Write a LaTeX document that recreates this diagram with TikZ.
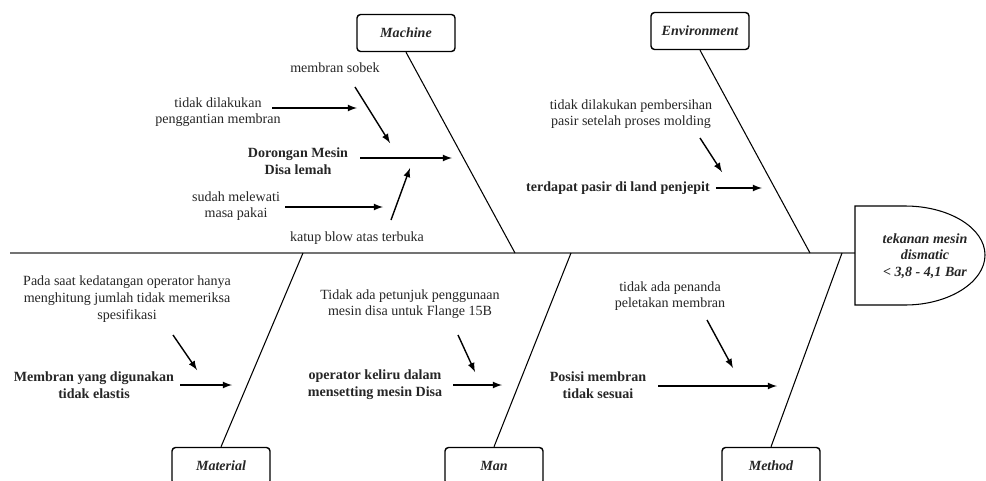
\documentclass[tikz,border=0pt]{standalone}
\usepackage{fontspec}
\setmainfont{Liberation Serif}
\newfontfamily\timesfont{Liberation Serif}
\usetikzlibrary{arrows}

\begin{document}
\begin{tikzpicture}
        [
            x = 0.02cm, y = -0.02cm,
            every node/.append style = {font = \timesfont\fontsize{8}{9.5}\selectfont, text = black!85},
            category/.style = {draw, rounded corners = 2pt, thick, minimum width = 1.96cm, minimum height = 0.74cm, font = \timesfont\fontsize{8}{9.5}\selectfont\bfseries\itshape},
            cause/.style = {align = center},
            maincause/.style = {align = center, font = \timesfont\fontsize{8}{9.5}\selectfont\bfseries},
            arr/.style = {->, >=latex, thick},
            bone/.style = {semithick}]
        \useasboundingbox (0,0) rectangle (986,480);
        \clip (0,0) rectangle (986,480);

        \node[category] (machine) at (406,33) {Machine};
        \node[category] (environment) at (700,31) {Environment};
        \node[category] (material) at (221,466) {Material};
        \node[category] (man) at (494,466) {Man};
        \node[category] (method) at (771,466) {Method};

        \coordinate (tail) at (10,253);
        \coordinate (head) at (855,253);
        \coordinate (jmachine) at (515,253);
        \coordinate (jenvironment) at (810,253);
        \coordinate (jmaterial) at (303,253);
        \coordinate (jman) at (571,253);
        \coordinate (jmethod) at (842,253);

        \draw[line width = 1.4pt, black!55] (tail) -- (head);
        \draw[semithick] (855,206) -- (905,206) .. controls (949,206) and (985,228) .. (985,255)
            .. controls (985,282) and (949,305) .. (905,305) -- (855,305) -- cycle;
        \node[align = center, font = \timesfont\fontsize{8}{9.5}\selectfont\bfseries\itshape] (effect) at (925,256)
            {tekanan mesin\\dismatic\\< 3,8 - 4,1 Bar};

        \draw[bone] (machine.south) -- (jmachine);
        \draw[bone] (environment.south) -- (jenvironment);
        \draw[bone] (material.north) -- (jmaterial);
        \draw[bone] (man.north) -- (jman);
        \draw[bone] (method.north) -- (jmethod);

        \node[cause] (sobek) at (335,68) {membran sobek};
        \node[cause] (ganti) at (218,112) {tidak dilakukan\\penggantian membran};
        \node[maincause] (dorongan) at (298,161) {Dorongan Mesin\\Disa lemah};
        \node[cause] (pakai) at (236,206) {sudah melewati\\masa pakai};
        \node[cause] (katup) at (357,238) {katup blow atas terbuka};
        \coordinate (esobek) at (390,143);
        \coordinate (eganti) at (357,108);
        \coordinate (edorongan) at (452,158);
        \coordinate (epakai) at (383,207);
        \coordinate (ekatup) at (410,168);
        \draw[arr] (355,87) -- (esobek);
        \draw[arr] (272,108) -- (eganti);
        \draw[arr] (360,158) -- (edorongan);
        \draw[arr] (285,207) -- (epakai);
        \draw[arr] (391,220) -- (ekatup);

        \node[cause] (bersih) at (631,114) {tidak dilakukan pembersihan\\pasir setelah proses molding};
        \node[maincause] (pasir) at (618,188) {terdapat pasir di land penjepit};
        \coordinate (ebersih) at (722,172);
        \coordinate (epasir) at (762,188);
        \draw[arr] (700,138) -- (ebersih);
        \draw[arr] (pasir.east) -- (epasir);

        \node[cause] (datang) at (127,299) {Pada saat kedatangan operator hanya\\menghitung jumlah tidak memeriksa\\spesifikasi};
        \node[maincause] (elastis) at (94,385) {Membran yang digunakan\\tidak elastis};
        \coordinate (edatang) at (197,370);
        \coordinate (eelastis) at (232,385);
        \draw[arr] (173,335) -- (edatang);
        \draw[arr] (180,385) -- (eelastis);

        \node[cause] (petunjuk) at (410,304) {Tidak ada petunjuk penggunaan\\mesin disa untuk Flange 15B};
        \node[maincause] (keliru) at (375,385) {operator keliru dalam\\mensetting mesin Disa};
        \coordinate (epetunjuk) at (475,372);
        \coordinate (ekeliru) at (502,385);
        \draw[arr] (458,335) -- (epetunjuk);
        \draw[arr] (453,385) -- (ekeliru);

        \node[cause] (penanda) at (670,296) {tidak ada penanda\\peletakan membran};
        \node[maincause] (posisi) at (598,385) {Posisi membran\\tidak sesuai};
        \coordinate (epenanda) at (733,368);
        \coordinate (eposisi) at (777,386);
        \draw[arr] (707,320) -- (epenanda);
        \draw[arr] (658,386) -- (eposisi);
    \end{tikzpicture}
\end{document}
